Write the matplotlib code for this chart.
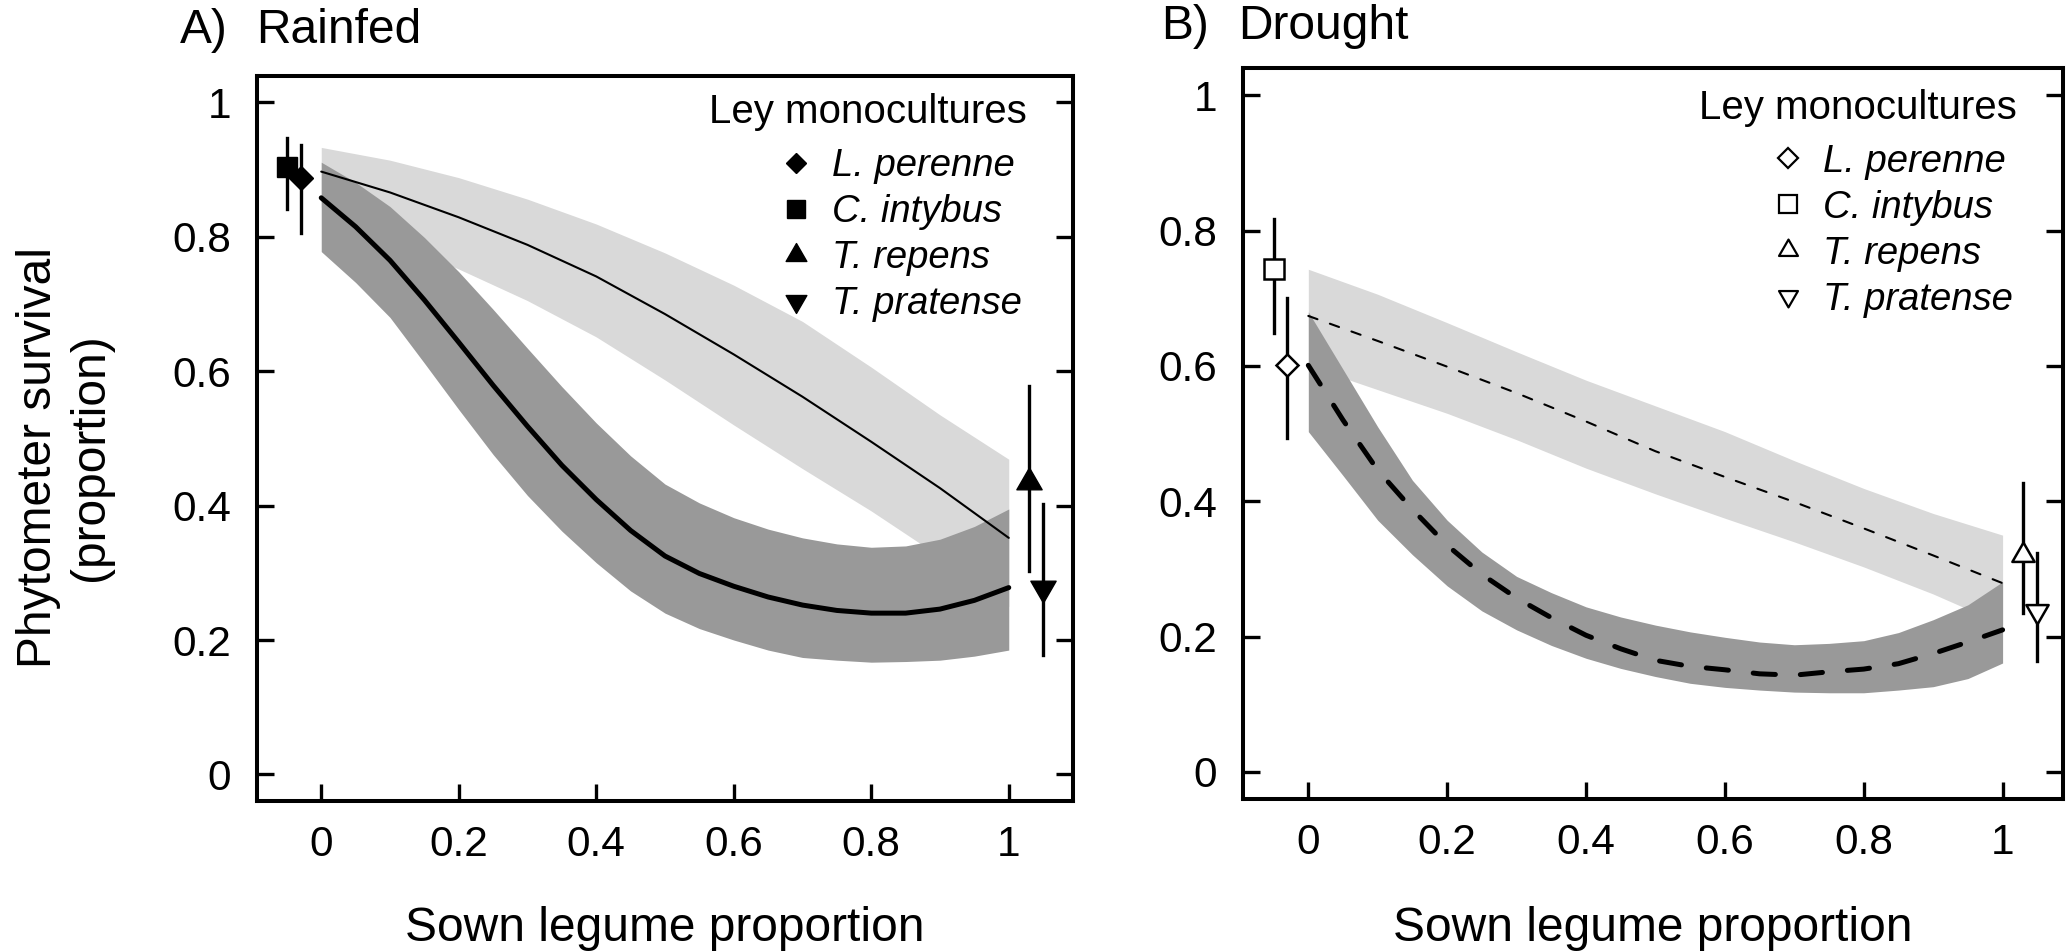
import matplotlib
matplotlib.use("Agg")
import matplotlib.pyplot as plt
from matplotlib.path import Path

W, H = 2066, 951

plt.rcParams["font.family"] = ["Liberation Sans", "DejaVu Sans"]
plt.rcParams["lines.scale_dashes"] = False

sown = [0.0, 0.1, 0.2, 0.3, 0.4, 0.5, 0.6, 0.7, 0.8, 0.9, 1.0]
sown_fine = [0.0, 0.05, 0.1, 0.15, 0.2, 0.25, 0.3, 0.35, 0.4, 0.45, 0.5,
             0.55, 0.6, 0.65, 0.7, 0.75, 0.8, 0.85, 0.9, 0.95, 1.0]

# A) Rainfed: thin line + light band (read on `sown`)
rain_thin_fit = [0.897, 0.866, 0.829, 0.788, 0.741, 0.685, 0.625, 0.562, 0.495, 0.426, 0.352]
rain_thin_hi = [0.933, 0.914, 0.888, 0.856, 0.819, 0.776, 0.728, 0.674, 0.606, 0.535, 0.469]
rain_thin_lo = [0.844, 0.797, 0.752, 0.705, 0.651, 0.587, 0.520, 0.455, 0.392, 0.324, 0.250]
# thick line + dark band (read on `sown_fine`)
rain_thick_fit = [0.858, 0.815, 0.765, 0.706, 0.643, 0.579, 0.518, 0.460, 0.409, 0.363, 0.325,
                  0.299, 0.280, 0.264, 0.252, 0.244, 0.240, 0.240, 0.246, 0.259, 0.278]
rain_thick_hi = [0.911, 0.881, 0.845, 0.799, 0.748, 0.692, 0.634, 0.577, 0.523, 0.474, 0.432,
                 0.404, 0.382, 0.365, 0.352, 0.343, 0.338, 0.340, 0.350, 0.369, 0.395]
rain_thick_lo = [0.778, 0.732, 0.680, 0.612, 0.543, 0.476, 0.415, 0.362, 0.315, 0.273, 0.240,
                 0.217, 0.200, 0.185, 0.174, 0.170, 0.167, 0.168, 0.170, 0.176, 0.185]

# B) Drought
dry_thin_fit = [0.674, 0.637, 0.599, 0.560, 0.518, 0.474, 0.436, 0.399, 0.360, 0.320, 0.279]
dry_thin_hi = [0.743, 0.706, 0.664, 0.621, 0.579, 0.541, 0.503, 0.460, 0.419, 0.382, 0.350]
dry_thin_lo = [0.600, 0.565, 0.530, 0.491, 0.449, 0.411, 0.375, 0.340, 0.303, 0.263, 0.218]
dry_thick_fit = [0.601, 0.520, 0.446, 0.388, 0.335, 0.292, 0.257, 0.228, 0.202, 0.182, 0.165,
                 0.156, 0.151, 0.145, 0.143, 0.148, 0.152, 0.160, 0.175, 0.192, 0.210]
dry_thick_hi = [0.680, 0.595, 0.510, 0.431, 0.372, 0.325, 0.289, 0.265, 0.244, 0.229, 0.217,
                0.207, 0.199, 0.192, 0.188, 0.190, 0.194, 0.206, 0.225, 0.247, 0.281]
dry_thick_lo = [0.503, 0.438, 0.372, 0.321, 0.275, 0.238, 0.210, 0.187, 0.168, 0.153, 0.141,
                0.131, 0.125, 0.121, 0.118, 0.117, 0.117, 0.121, 0.126, 0.138, 0.161]

# ley monocultures (mean and interval), plotted just outside 0 and 1
species = ["L. perenne", "C. intybus", "T. repens", "T. pratense"]
mono_x = [-0.03, -0.05, 1.03, 1.05]
rain_mono = [0.887, 0.904, 0.435, 0.278]
rain_mono_lo = [0.805, 0.841, 0.303, 0.178]
rain_mono_hi = [0.937, 0.947, 0.578, 0.403]
dry_mono = [0.601, 0.743, 0.321, 0.238]
dry_mono_lo = [0.493, 0.649, 0.235, 0.164]
dry_mono_hi = [0.700, 0.817, 0.427, 0.324]

ticks = [0, 0.2, 0.4, 0.6, 0.8, 1]
tick_labels = ["0", "0.2", "0.4", "0.6", "0.8", "1"]

# R-style triangles, centred on the centroid
tri_up = Path([(0, 1), (-0.866, -0.5), (0.866, -0.5), (0, 1)],
              [Path.MOVETO, Path.LINETO, Path.LINETO, Path.CLOSEPOLY])
tri_down = Path([(0, -1), (-0.866, 0.5), (0.866, 0.5), (0, -1)],
                [Path.MOVETO, Path.LINETO, Path.LINETO, Path.CLOSEPOLY])
markers = ["D", "s", tri_up, tri_down]
msize = [12, 15, 21, 21]
msize_open = [11.5, 14.5, 18.5, 18.5]


def fx(px):
    return px / W


def fy(py):
    return 1 - py / H


fig = plt.figure(figsize=(W / 100, H / 100), dpi=100)

panels = [
    dict(box=(257.3, 75.5, 1072.7, 801.3), letter="A)", name="Rainfed", letter_x=180, name_x=256,
         title_y=43, thin=(rain_thin_fit, rain_thin_lo, rain_thin_hi),
         thick=(rain_thick_fit, rain_thick_lo, rain_thick_hi),
         mono=(rain_mono, rain_mono_lo, rain_mono_hi), filled=True, thin_ls="-", thick_ls="-",
         leg_title=(1027, 123), leg_marker_x=796, leg_text_x=832, leg_rows=[162.5, 208.5, 254.5, 300.5],
         xlim=(-0.093, 1.093)),
    dict(box=(1243.4, 68.3, 2063, 799), letter="B)", name="Drought", letter_x=1161, name_x=1238,
         title_y=39, thin=(dry_thin_fit, dry_thin_lo, dry_thin_hi),
         thick=(dry_thick_fit, dry_thick_lo, dry_thick_hi),
         mono=(dry_mono, dry_mono_lo, dry_mono_hi), filled=False, thin_ls=(0, (7, 9.5)), thick_ls=(0, (16, 18)),
         leg_title=(2017, 119), leg_marker_x=1788, leg_text_x=1823, leg_rows=[158, 204, 250, 296],
         xlim=(-0.0935, 1.087)),
]

for p in panels:
    l, t, r, b = p["box"]
    ax = fig.add_axes([fx(l), fy(b), (r - l) / W, (b - t) / H])
    thin_fit, thin_lo, thin_hi = p["thin"]
    thick_fit, thick_lo, thick_hi = p["thick"]

    ax.fill_between(sown, thin_lo, thin_hi, color="#d9d9d9", lw=0, zorder=1)
    ax.fill_between(sown_fine, thick_lo, thick_hi, color="#999999", lw=0, zorder=2)
    ax.plot(sown, thin_fit, color="black", lw=1.5, ls=p["thin_ls"],
            dash_capstyle="round", solid_capstyle="round", solid_joinstyle="round", zorder=3)
    ax.plot(sown_fine, thick_fit, color="black", lw=3.6, ls=p["thick_ls"],
            dash_capstyle="round", solid_capstyle="round", solid_joinstyle="round", zorder=4)

    mean, lo, hi = p["mono"]
    for i in range(len(species)):
        ax.plot([mono_x[i], mono_x[i]], [lo[i], hi[i]], color="black", lw=2.4, zorder=5)
        if p["filled"]:
            ax.plot(mono_x[i], mean[i], marker=markers[i], ms=msize[i], mfc="black",
                    mec="black", mew=1, ls="none", zorder=6)
        else:
            ax.plot(mono_x[i], mean[i], marker=markers[i], ms=msize_open[i], mfc="white",
                    mec="black", mew=1.8, ls="none", zorder=6)

    # legend
    tx, ty = p["leg_title"]
    fig.text(fx(tx), fy(ty), "Ley monocultures", ha="right", va="baseline", fontsize=29)
    for i, name in enumerate(species):
        row = p["leg_rows"][i]
        if p["filled"]:
            ax.plot(fx(p["leg_marker_x"]), fy(row), marker=markers[i], ms=msize[i] * 0.82,
                    mfc="black", mec="black", mew=1, transform=fig.transFigure, clip_on=False)
        else:
            ax.plot(fx(p["leg_marker_x"]), fy(row), marker=markers[i], ms=msize_open[i] * 0.85,
                    mfc="white", mec="black", mew=1.6, transform=fig.transFigure, clip_on=False)
        fig.text(fx(p["leg_text_x"]), fy(row + 13.5), name, fontstyle="italic",
                 ha="left", va="baseline", fontsize=27.5)

    ax.set_xlim(*p["xlim"])
    ax.set_ylim(-0.04, 1.04)
    ax.set_xticks(ticks)
    ax.set_xticklabels(tick_labels)
    ax.set_yticks(ticks)
    ax.set_yticklabels(tick_labels)
    ax.tick_params(direction="in", length=12, width=2.4, labelsize=30.5, right=True, top=False)
    ax.tick_params(axis="x", pad=17)
    ax.tick_params(axis="y", pad=19)
    for s in ax.spines.values():
        s.set_linewidth(2.9)

    ax.set_xlabel("Sown legume proportion", fontsize=34.5)
    ax.xaxis.set_label_coords(0.5, (b - 941) / (b - t))
    ax.xaxis.label.set_va("baseline")

    fig.text(fx(p["letter_x"]), fy(p["title_y"]), p["letter"], ha="left", va="baseline", fontsize=34.5)
    fig.text(fx(p["name_x"]), fy(p["title_y"]), p["name"], ha="left", va="baseline", fontsize=34.5)

fig.text(fx(65), fy(457), "Phytometer survival\n(proportion)", rotation=90,
         ha="center", va="center", fontsize=34.5, linespacing=1.2)

fig.savefig("out.png", dpi=100)
